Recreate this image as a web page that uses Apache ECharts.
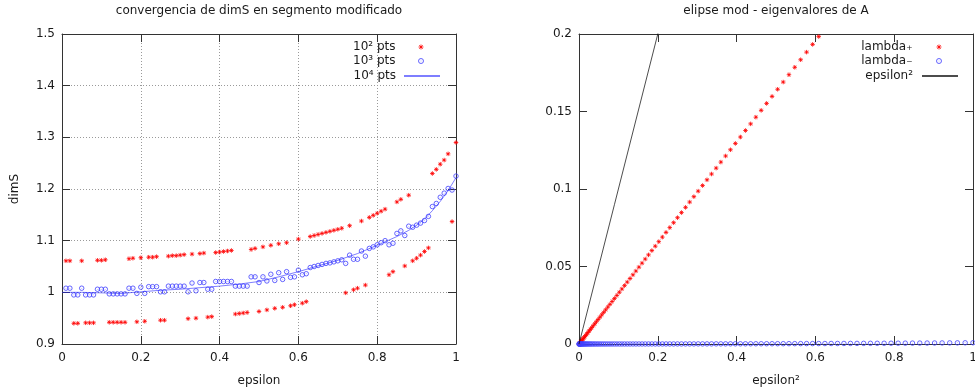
<!DOCTYPE html>
<html>
<head>
<meta charset="utf-8">
<script src="https://cdn.jsdelivr.net/npm/echarts/dist/echarts.min.js"></script>
<style>
  html, body { margin: 0; padding: 0; background: #ffffff; }
  #chart { width: 975px; height: 392px; }
</style>
</head>
<body>
<div id="chart"></div>
<script>
// ---- left panel: dimS estimates vs epsilon ----
const epsilon = [
  0.01,0.02,0.03,0.04,0.05,0.06,0.07,0.08,0.09,0.10,
  0.11,0.12,0.13,0.14,0.15,0.16,0.17,0.18,0.19,0.20,
  0.21,0.22,0.23,0.24,0.25,0.26,0.27,0.28,0.29,0.30,
  0.31,0.32,0.33,0.34,0.35,0.36,0.37,0.38,0.39,0.40,
  0.41,0.42,0.43,0.44,0.45,0.46,0.47,0.48,0.49,0.50,
  0.51,0.52,0.53,0.54,0.55,0.56,0.57,0.58,0.59,0.60,
  0.61,0.62,0.63,0.64,0.65,0.66,0.67,0.68,0.69,0.70,
  0.71,0.72,0.73,0.74,0.75,0.76,0.77,0.78,0.79,0.80,
  0.81,0.82,0.83,0.84,0.85,0.86,0.87,0.88,0.89,0.90,
  0.91,0.92,0.93,0.94,0.95,0.96,0.97,0.98,0.99,1.00
];
// 10^2 points
const dimS100 = [
  1.061,1.061,0.940,0.940,1.061,0.941,0.941,0.941,1.062,1.062,
  1.063,0.942,0.942,0.942,0.942,0.942,1.065,1.066,0.943,1.067,
  0.944,1.068,1.068,1.069,0.946,0.946,1.070,1.071,1.071,1.072,
  1.073,0.949,1.074,0.950,1.075,1.076,0.952,0.953,1.077,1.078,
  1.079,1.080,1.081,0.958,0.959,0.960,0.961,1.083,1.085,0.963,
  1.088,0.966,1.091,0.969,1.094,0.971,1.096,0.974,0.976,1.103,
  0.979,0.982,1.108,1.110,1.112,1.114,1.116,1.118,1.120,1.122,
  1.124,0.999,1.129,1.005,1.008,1.138,1.014,1.145,1.149,1.153,
  1.157,1.161,1.034,1.040,1.175,1.180,1.051,1.188,1.061,1.066,
  1.072,1.079,1.086,1.230,1.238,1.248,1.256,1.268,1.137,1.290
];
// 10^3 points
const dimS1000 = [
  1.008,1.008,0.995,0.995,1.008,0.995,0.995,0.995,1.006,1.006,
  1.006,0.997,0.997,0.997,0.997,0.997,1.008,1.008,0.998,1.010,
  0.998,1.011,1.011,1.011,1.001,1.001,1.012,1.012,1.012,1.012,
  1.012,1.001,1.018,1.003,1.019,1.019,1.006,1.006,1.021,1.021,
  1.021,1.021,1.021,1.012,1.012,1.012,1.012,1.030,1.030,1.019,
  1.030,1.022,1.035,1.023,1.038,1.025,1.040,1.029,1.030,1.043,
  1.034,1.036,1.048,1.050,1.052,1.054,1.056,1.057,1.059,1.061,
  1.063,1.056,1.072,1.064,1.064,1.080,1.070,1.085,1.088,1.092,
  1.096,1.100,1.092,1.095,1.114,1.119,1.110,1.128,1.126,1.130,
  1.134,1.139,1.147,1.166,1.172,1.184,1.192,1.201,1.198,1.225
];
// 10^4 points (drawn as a line)
const lineEpsilon = [0,0.05,0.10,0.15,0.20,0.25,0.30,0.35,0.40,0.45,0.50,0.55,0.60,
  0.65,0.70,0.75,0.80,0.85,0.88,0.90,0.92,0.94,0.96,0.98,1.00];
const dimS10000 = [1.000,1.000,0.999,0.998,1.001,1.004,1.006,1.009,1.012,1.016,1.021,1.030,1.040,
  1.051,1.062,1.075,1.091,1.108,1.120,1.130,1.142,1.158,1.176,1.197,1.222];

// ---- right panel: eigenvalues of A vs epsilon^2 ----
const epsilonSq = [
  0.0001,0.0004,0.0009,0.0016,0.0025,0.0036,0.0049,0.0064,0.0081,0.0100,
  0.0121,0.0144,0.0169,0.0196,0.0225,0.0256,0.0289,0.0324,0.0361,0.0400,
  0.0441,0.0484,0.0529,0.0576,0.0625,0.0676,0.0729,0.0784,0.0841,0.0900,
  0.0961,0.1024,0.1089,0.1156,0.1225,0.1296,0.1369,0.1444,0.1521,0.1600,
  0.1681,0.1764,0.1849,0.1936,0.2025,0.2116,0.2209,0.2304,0.2401,0.2500,
  0.2601,0.2704,0.2809,0.2916,0.3025,0.3136,0.3249,0.3364,0.3481,0.3600,
  0.3721,0.3844,0.3969,0.4096,0.4225,0.4356,0.4489,0.4624,0.4761,0.4900,
  0.5041,0.5184,0.5329,0.5476,0.5625,0.5776,0.5929,0.6084,0.6241,0.6400,
  0.6561,0.6724,0.6889,0.7056,0.7225,0.7396,0.7569,0.7744,0.7921,0.8100,
  0.8281,0.8464,0.8649,0.8836,0.9025,0.9216,0.9409,0.9604,0.9801,1.0000
];
const lambdaPlus = [
  0.00003,0.00013,0.00029,0.00052,0.00082,0.00117,0.00160,0.00209,0.00264,0.00326,
  0.00394,0.00469,0.00551,0.00639,0.00734,0.00835,0.00942,0.01056,0.01177,0.01304,
  0.01438,0.01578,0.01725,0.01878,0.02038,0.02204,0.02377,0.02556,0.02742,0.02934,
  0.03133,0.03338,0.03550,0.03769,0.03994,0.04225,0.04463,0.04707,0.04958,0.05216,
  0.05480,0.05751,0.06028,0.06311,0.06602,0.06898,0.07201,0.07511,0.07827,0.08150,
  0.08479,0.08815,0.09157,0.09506,0.09862,0.10223,0.10592,0.10967,0.11348,0.11736,
  0.12130,0.12531,0.12939,0.13353,0.13774,0.14201,0.14634,0.15074,0.15521,0.15974,
  0.16434,0.16900,0.17373,0.17852,0.18338,0.18830,0.19329,0.19834
];
const lambdaMinus = [
  0,0,0,0,0,0,0,0,0,0,
  0,0,0,0,0,0,0,0,0,0,
  0,0,0,0,0,0,0,0,0,0.00001,
  0.00001,0.00001,0.00001,0.00001,0.00001,0.00001,0.00002,0.00002,0.00002,0.00002,
  0.00002,0.00002,0.00003,0.00003,0.00003,0.00004,0.00004,0.00004,0.00005,0.00005,
  0.00005,0.00006,0.00006,0.00007,0.00007,0.00008,0.00008,0.00009,0.00010,0.00010,
  0.00011,0.00012,0.00013,0.00013,0.00014,0.00015,0.00016,0.00017,0.00018,0.00019,
  0.00020,0.00021,0.00023,0.00024,0.00025,0.00027,0.00028,0.00030,0.00031,0.00033,
  0.00034,0.00036,0.00038,0.00040,0.00042,0.00044,0.00046,0.00048,0.00050,0.00052,
  0.00055,0.00057,0.00060,0.00062,0.00065,0.00068,0.00071,0.00074,0.00077,0.00080
];
const diagonalX = [0, 0.01, 0.04, 0.09, 0.16, 0.25];
const diagonalY = [0, 0.01, 0.04, 0.09, 0.16, 0.25];

// ---- styling ----
const FONT = 'DejaVu Sans';
const TEXT = '#1a1a1a';
const FRAME = '#333333';
const RED = '#ff0000';
const BLUE = '#4040ff';
const MARK = 4.5;
const ASTERISK = 'path://M0,5L10,5M5,0L5,10M1.5,1.5L8.5,8.5M8.5,1.5L1.5,8.5';
const RING = 'path://M0,5A5,5,0,1,1,10,5A5,5,0,1,1,0,5ZM5,4.6L5,5.4';
const redMark = { color: 'none', borderColor: RED, borderWidth: 1 };
const blueMark = { color: 'none', borderColor: BLUE, borderWidth: 1 };
const hiddenMark = { color: 'rgba(0,0,0,0)', borderColor: 'rgba(0,0,0,0)', borderWidth: 0 };

const zip = (xs, ys) => ys.map((y, i) => [xs[i], y]);

function axisBase(extra) {
  return Object.assign({
    type: 'value',
    axisLine: { show: true, onZero: false, lineStyle: { color: FRAME, width: 1 } },
    axisTick: { show: true, inside: true, length: 8, lineStyle: { color: FRAME, width: 1 } },
    axisLabel: { show: false },
    splitLine: { show: false },
    nameTextStyle: { fontFamily: FONT, fontSize: 12, color: TEXT }
  }, extra);
}
const labelStyle = (margin) => ({ show: true, margin: margin, fontFamily: FONT, fontSize: 12, color: TEXT });
const dotted = { show: true, lineStyle: { color: '#9a9a9a', width: 1, type: [1, 2] } };

// one legend per entry so that text is right-aligned next to its key
function legendEntry(item, right, centerY, keyWidth, keyHeight, gap) {
  return {
    data: [item], right: right, top: centerY - 5, orient: 'vertical', align: 'right',
    padding: 0, itemWidth: keyWidth, itemHeight: keyHeight, selectedMode: false,
    textStyle: { fontFamily: FONT, fontSize: 12, color: TEXT, padding: [10, gap, 0, 0] }
  };
}

const chart = echarts.init(document.getElementById('chart'), null, { renderer: 'canvas' });
chart.setOption({
  animation: false,
  backgroundColor: '#ffffff',
  title: [
    { text: 'convergencia de dimS en segmento modificado', left: 259, top: 5, textAlign: 'center', padding: 0,
      textStyle: { fontFamily: FONT, fontSize: 12, fontWeight: 'normal', color: TEXT } },
    { text: 'elipse mod - eigenvalores de A', left: 776, top: 5, textAlign: 'center', padding: 0,
      textStyle: { fontFamily: FONT, fontSize: 12, fontWeight: 'normal', color: TEXT } }
  ],
  grid: [
    { left: 62, top: 34, width: 394, height: 310, containLabel: false, outerBoundsMode: 'none' },
    { left: 579, top: 34, width: 394, height: 310, containLabel: false, outerBoundsMode: 'none' }
  ],
  xAxis: [
    axisBase({ gridIndex: 0, position: 'bottom', min: 0, max: 1, interval: 0.2,
      axisLabel: labelStyle(8), splitLine: dotted,
      name: 'epsilon', nameLocation: 'middle', nameGap: 31 }),
    axisBase({ gridIndex: 0, position: 'top', min: 0, max: 1, interval: 0.2 }),
    axisBase({ gridIndex: 1, position: 'bottom', min: 0, max: 1, interval: 0.2,
      axisLabel: labelStyle(8),
      name: 'epsilon\u00b2', nameLocation: 'middle', nameGap: 31 }),
    axisBase({ gridIndex: 1, position: 'top', min: 0, max: 1, interval: 0.2 })
  ],
  yAxis: [
    axisBase({ gridIndex: 0, position: 'left', min: 0.9, max: 1.5, interval: 0.1,
      axisLabel: labelStyle(7), splitLine: dotted,
      name: 'dimS', nameLocation: 'middle', nameGap: 41 }),
    axisBase({ gridIndex: 0, position: 'right', min: 0.9, max: 1.5, interval: 0.1 }),
    axisBase({ gridIndex: 1, position: 'left', min: 0, max: 0.2, interval: 0.05,
      axisLabel: labelStyle(7) }),
    axisBase({ gridIndex: 1, position: 'right', min: 0, max: 0.2, interval: 0.05 })
  ],
  legend: [
    legendEntry({ name: '10\u00b2 pts', icon: ASTERISK, itemStyle: redMark }, 549, 46, 5, 5, 18),
    legendEntry({ name: '10\u00b3 pts', icon: RING, itemStyle: blueMark }, 549, 60, 5, 5, 18),
    legendEntry({ name: '10\u2074 pts', itemStyle: hiddenMark }, 534, 75, 36, 5, 3),
    legendEntry({ name: 'lambda\u208a', icon: ASTERISK, itemStyle: redMark }, 31, 46, 5, 5, 19),
    legendEntry({ name: 'lambda\u208b', icon: RING, itemStyle: blueMark }, 31, 60, 5, 5, 19),
    legendEntry({ name: 'epsilon\u00b2', itemStyle: hiddenMark }, 16, 75, 36, 5, 4)
  ],
  series: [
    { name: '10\u00b2 pts', type: 'scatter', xAxisIndex: 0, yAxisIndex: 0,
      data: zip(epsilon, dimS100), symbol: ASTERISK, symbolSize: MARK, itemStyle: redMark },
    { name: '10\u00b3 pts', type: 'scatter', xAxisIndex: 0, yAxisIndex: 0,
      data: zip(epsilon, dimS1000), symbol: RING, symbolSize: MARK, itemStyle: blueMark },
    { name: '10\u2074 pts', type: 'line', xAxisIndex: 0, yAxisIndex: 0,
      data: zip(lineEpsilon, dimS10000), symbol: 'none', showSymbol: false,
      itemStyle: hiddenMark, lineStyle: { color: 'rgba(40,40,255,0.6)', width: 1 } },
    { name: 'lambda\u208a', type: 'scatter', xAxisIndex: 2, yAxisIndex: 2,
      data: zip(epsilonSq, lambdaPlus), symbol: ASTERISK, symbolSize: MARK, itemStyle: redMark },
    { name: 'lambda\u208b', type: 'scatter', xAxisIndex: 2, yAxisIndex: 2,
      data: zip(epsilonSq, lambdaMinus), symbol: RING, symbolSize: MARK, itemStyle: blueMark },
    { name: 'epsilon\u00b2', type: 'line', xAxisIndex: 2, yAxisIndex: 2,
      data: zip(diagonalX, diagonalY), symbol: 'none', showSymbol: false, clip: true,
      itemStyle: hiddenMark, lineStyle: { color: 'rgba(0,0,0,0.7)', width: 1 } }
  ]
});
</script>
</body>
</html>
